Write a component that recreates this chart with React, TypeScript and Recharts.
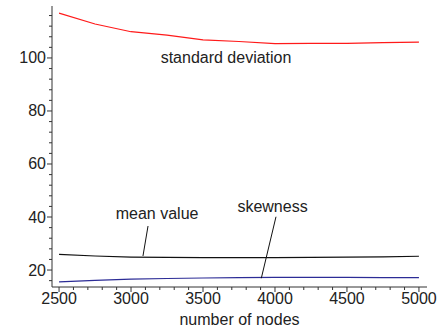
import { LineChart, Line, XAxis, YAxis, ReferenceLine, ReferenceDot } from "recharts";

const nodes = [2500, 2750, 3000, 3250, 3500, 3750, 4000, 4250, 4500, 4750, 5000];
const stdDev = [116.9, 112.8, 109.9, 108.6, 106.8, 106.2, 105.4, 105.5, 105.5, 105.8, 106.0];
const meanValue = [25.9, 25.3, 24.9, 24.8, 24.7, 24.7, 24.7, 24.8, 24.9, 25.0, 25.2];
const skewness = [15.5, 16.1, 16.6, 16.8, 17.0, 17.1, 17.2, 17.2, 17.2, 17.1, 17.1];

const xTicks = [
  2500, 2600, 2700, 2800, 2900, 3000, 3100, 3200, 3300, 3400, 3500, 3600, 3700, 3800, 3900, 4000,
  4100, 4200, 4300, 4400, 4500, 4600, 4700, 4800, 4900, 5000,
];
const yTicks = [16, 20, 24, 28, 32, 36, 40, 44, 48, 52, 56, 60, 64, 68, 72, 76, 80, 84, 88, 92, 96, 100, 104, 108, 112, 116];

const data = nodes.map((n, i) => ({
  nodes: n,
  std: stdDev[i],
  mean: meanValue[i],
  skew: skewness[i],
}));

const FONT = "'Liberation Sans', Arial, sans-serif";
const AXIS = "#333";

const XTick = (props: any) => {
  const { x, y, payload } = props;
  const major = payload.value % 500 === 0;
  return (
    <g>
      <line x1={x} x2={x} y1={y} y2={y + (major ? 5 : 3)} stroke={AXIS} />
      {major && (
        <text x={x} y={y + 17} textAnchor="middle" fontSize={16} fill="#222" fontFamily={FONT}>
          {payload.value}
        </text>
      )}
    </g>
  );
};

const YTick = (props: any) => {
  const { x, y, payload } = props;
  const major = payload.value % 20 === 0;
  return (
    <g>
      <line x1={x} x2={x - (major ? 5 : 3)} y1={y} y2={y} stroke={AXIS} />
      {major && (
        <text x={x - 6} y={y} textAnchor="end" dominantBaseline="central" fontSize={16} fill="#222" fontFamily={FONT}>
          {payload.value}
        </text>
      )}
    </g>
  );
};

const noteLabel = (value: string) => ({
  value,
  position: "center" as const,
  fontSize: 16,
  fill: "#222",
  fontFamily: FONT,
});

export default function App() {
  return (
    <div style={{ position: "absolute", left: 0, top: 0, width: 442, height: 328, background: "#fff" }}>
      <LineChart width={442} height={328} data={data} margin={{ top: 6, right: 15, bottom: 0, left: 0 }}>
        <XAxis
          dataKey="nodes"
          type="number"
          domain={[2451, 5056]}
          ticks={xTicks}
          interval={0}
          tick={<XTick />}
          tickLine={false}
          tickSize={0}
          tickMargin={0}
          height={41}
          axisLine={{ stroke: AXIS }}
          label={{ value: "number of nodes", position: "insideBottom", offset: 3, fontSize: 16, fill: "#222", fontFamily: FONT }}
        />
        <XAxis xAxisId="top" dataKey="nodes" type="number" domain={[2451, 5056]} orientation="top" tick={false} tickLine={false} height={0} axisLine={{ stroke: AXIS }} />
        <YAxis
          type="number"
          domain={[13.6, 119.6]}
          ticks={yTicks}
          interval={0}
          tick={<YTick />}
          tickLine={false}
          tickSize={0}
          tickMargin={0}
          width={52}
          axisLine={{ stroke: AXIS }}
        />
        <YAxis yAxisId="right" orientation="right" domain={[13.6, 119.6]} tick={false} tickLine={false} width={0} axisLine={{ stroke: AXIS }} />
        <Line dataKey="std" stroke="#ff1a1a" strokeWidth={1.2} dot={false} isAnimationActive={false} />
        <Line dataKey="mean" stroke="#111" strokeWidth={1.2} dot={false} isAnimationActive={false} />
        <Line dataKey="skew" stroke="#2c2c96" strokeWidth={1.2} dot={false} isAnimationActive={false} />
        <ReferenceLine segment={[{ x: 3118, y: 36.6 }, { x: 3083, y: 25.3 }]} stroke="#111" />
        <ReferenceLine segment={[{ x: 4007, y: 40.1 }, { x: 3905, y: 16.9 }]} stroke="#111" />
        <ReferenceDot x={3660} y={100.4} r={0} fill="none" stroke="none" label={noteLabel("standard deviation")} />
        <ReferenceDot x={3181} y={41.5} r={0} fill="none" stroke="none" label={noteLabel("mean value")} />
        <ReferenceDot x={3983} y={44.2} r={0} fill="none" stroke="none" label={noteLabel("skewness")} />
      </LineChart>
    </div>
  );
}
